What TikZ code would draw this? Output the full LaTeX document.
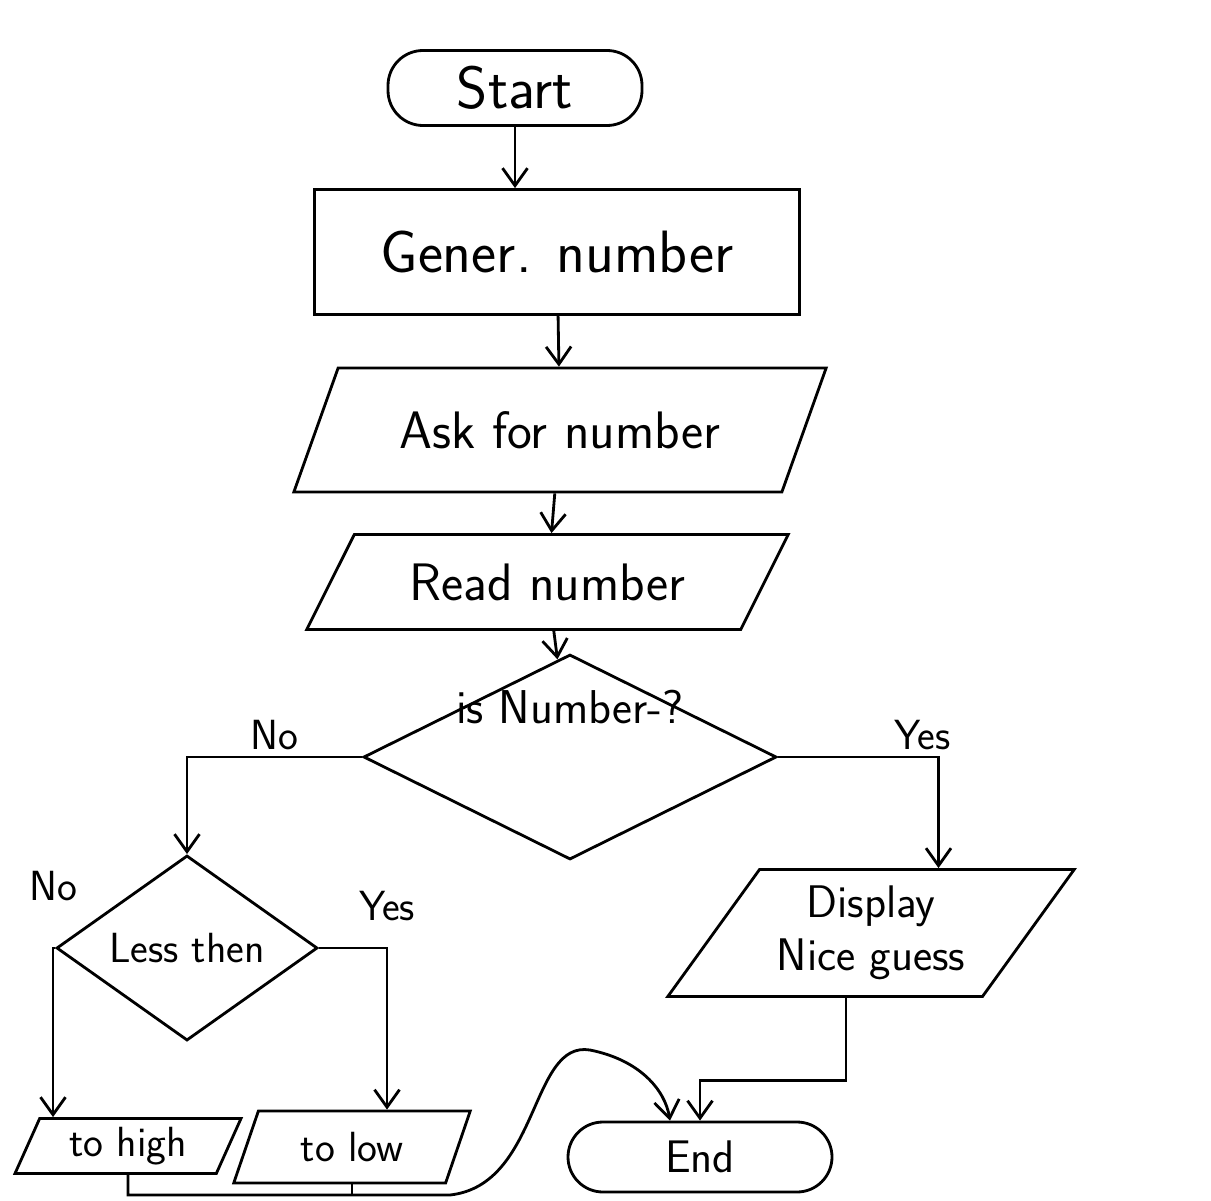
\documentclass[tikz,border=0pt]{standalone}
\usetikzlibrary{arrows.meta,positioning,calc,shapes.geometric}

\begin{document}
\begin{tikzpicture}[>={Straight Barb[length=3.5mm,width=5mm]},
  line width=1.6pt,
  term/.style={draw,rectangle,rounded corners=7mm},
  proc/.style={draw,rectangle},
  io/.style={draw,trapezium,trapezium stretches=true},
  dec/.style={draw,diamond},
  lbl/.style={font=\sffamily\fontsize{24}{28}\selectfont}]
  \useasboundingbox (0,0) rectangle (24.22,-24.02);
  \node[term,minimum width=5.08cm,minimum height=1.5cm,font=\sffamily\fontsize{34}{38}\selectfont] (start) at (10.3,-1.76) {Start};
  \node[proc,minimum width=9.7cm,minimum height=2.5cm,font=\sffamily\fontsize{34}{38}\selectfont] (gener) at (11.14,-5.04) {Gener. number};
  \node[io,trapezium left angle=56,trapezium right angle=124,minimum width=10.68cm,minimum height=2.48cm,font=\sffamily\fontsize{30}{34}\selectfont] (ask) at (11.2,-8.6) {Ask for number};
  \node[io,trapezium left angle=54,trapezium right angle=126,minimum width=9.64cm,minimum height=1.9cm,font=\sffamily\fontsize{30}{34}\selectfont] (read) at (10.95,-11.64) {Read number};
  \node[dec,minimum width=8.26cm,minimum height=4.1cm,label={[yshift=1cm,font=\sffamily\fontsize{27}{30}\selectfont]center:is Number-?}] (num) at (11.4,-15.14) {};
  \node[dec,minimum width=5.22cm,minimum height=3.7cm,inner sep=0pt,font=\sffamily\fontsize{24}{28}\selectfont] (less) at (3.74,-18.96) {Less then};
  \node[io,trapezium left angle=52,trapezium right angle=128,minimum width=8.14cm,minimum height=2.54cm,align=center,font=\sffamily\fontsize{26}{30}\selectfont] (display) at (17.42,-18.66) {Display\\Nice guess};
  \node[io,trapezium left angle=70,trapezium right angle=110,minimum width=4.54cm,minimum height=1.1cm,font=\sffamily\fontsize{24}{28}\selectfont] (tohigh) at (2.56,-22.92) {to high};
  \node[io,trapezium left angle=70,trapezium right angle=110,minimum width=4.76cm,minimum height=1.44cm,font=\sffamily\fontsize{24}{28}\selectfont] (tolow) at (7.04,-22.94) {to low};
  \node[term,minimum width=5.28cm,minimum height=1.4cm,font=\sffamily\fontsize{26}{30}\selectfont] (end) at (14.0,-23.14) {End};
  \coordinate (bend) at (9.0,-23.9);
  % main line
  \draw[->] (start.south) -- (start.south |- gener.north);
  \draw[->] (gener) -- (ask);
  \draw[->] (ask) -- (read);
  \draw[->] (read) -- (num);
  % branches
  \draw[->] (num.west) -| node[lbl,pos=0.25,above]{No} (less.north);
  \draw[->] (num.east) -| node[lbl,pos=0.45,above]{Yes} ([xshift=1.35cm]display.north);
  \draw[->] (less.west) -| node[lbl,pos=0.5,above=0.8cm]{No} ([xshift=-1.5cm]tohigh.north);
  \draw[->] (less.east) -| node[lbl,pos=0.5,above=0.4cm]{Yes} ([xshift=0.7cm]tolow.north);
  % back to end
  \draw[->] ([xshift=-0.5cm]display.south) -- ++(0,-1.65) -| (end.north);
  \draw (tolow.south) -- (tolow.south |- bend);
  \draw[->] (tohigh.south) |- (bend) .. controls (10.8,-23.7) and (10.6,-20.8) .. (11.8,-21.0)
    .. controls (12.8,-21.2) and (13.3,-21.8) .. ([xshift=-0.6cm]end.north);
\end{tikzpicture}
\end{document}
